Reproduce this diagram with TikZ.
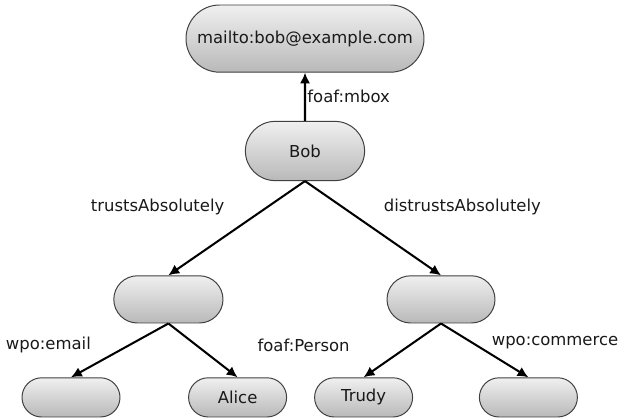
\documentclass[tikz,border=0pt]{standalone}
\usepackage{fontspec}
\setmainfont{DejaVu Sans}
\usepackage{tikz}
\usetikzlibrary{shapes.misc,arrows.meta,positioning}
\usepackage{xcolor}

\begin{document}
\begin{tikzpicture}[
    resource/.style={rounded rectangle, draw=black!75, line width=0.7pt, top color=gray!12, bottom color=gray!55, minimum height=1.2cm, inner sep=0pt, font=\fontsize{11.7}{14}\selectfont, text=black!90},
    leaf/.style={resource, minimum width=2.45cm, minimum height=0.98cm},
    rel/.style={-{Latex[length=0.27cm,width=0.26cm]}, line width=1.45pt, black},
    lbl/.style={font=\fontsize{11.7}{14}\selectfont, text=black!90, inner sep=1pt}
]
\useasboundingbox (0,0) rectangle (15.725,10.475);

% Top of the tree
\node[resource, minimum width=5.95cm, minimum height=1.68cm] (mbox) at (7.625,9.51) {mailto:bob@example.com};
\node[resource, minimum width=2.98cm, minimum height=1.48cm] (bob) at (7.625,6.7) {Bob};

% Middle (blank) resources
\node[resource, minimum width=2.73cm, minimum height=1.18cm] (trusted) at (4.21,2.99) {};
\node[resource, minimum width=2.7cm, minimum height=1.18cm] (distrusted) at (11.025,2.99) {};

% Leaves
\node[leaf] (email) at (1.775,0.54) {};
\node[leaf] (alice) at (5.94,0.54) {Alice};
\node[leaf] (trudy) at (9.09,0.54) {Trudy};
\node[leaf] (commerce) at (13.21,0.54) {};

% Relations
\draw[rel] (bob) -- node[lbl, right] (lmbox) {foaf:mbox} (mbox);
\draw[rel] (bob.south) -- (trusted.north);
\draw[rel] (bob.south) -- (distrusted.north);
\draw[rel] (trusted.south) -- (email.north);
\draw[rel] (trusted.south) -- (alice.north);
\draw[rel] (distrusted.south) -- (trudy.north);
\draw[rel] (distrusted.south) -- (commerce.north);

% Relation labels
\node[lbl] (ltrust) at (3.94,5.3) {trustsAbsolutely};
\node[lbl] (ldistrust) at (11.56,5.3) {distrustsAbsolutely};
\node[lbl] (lemail) at (1.21,1.85) {wpo:email};
\node[lbl] (lperson) at (7.59,1.85) {foaf:Person};
\node[lbl] (lcommerce) at (13.875,1.9) {wpo:commerce};

\end{tikzpicture}
\end{document}
